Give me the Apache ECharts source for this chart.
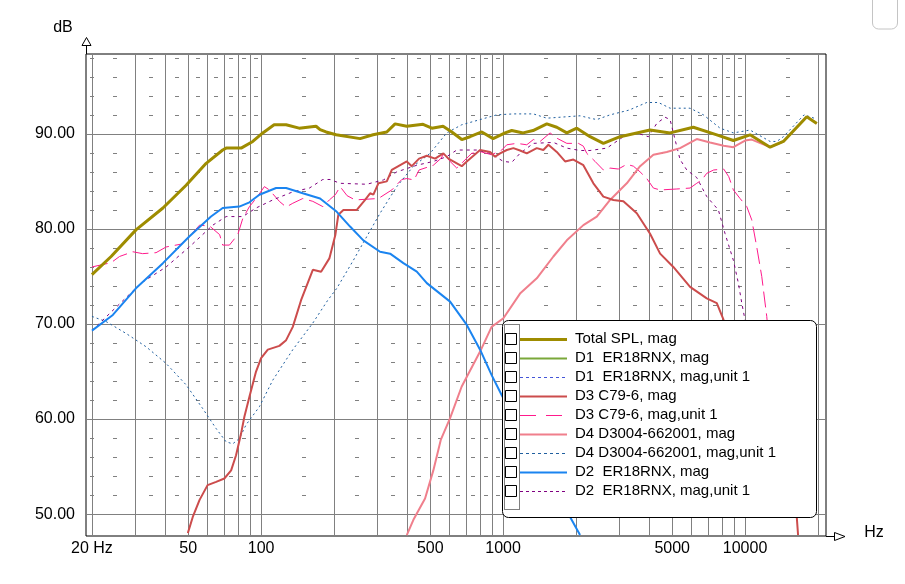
<!DOCTYPE html>
<html><head><meta charset="utf-8">
<script src="https://cdn.jsdelivr.net/npm/echarts@6/dist/echarts.min.js"></script>
<style>html,body{margin:0;padding:0;background:#fff}#c{width:905px;height:584px}</style>
</head><body><div id="c"></div>
<script>
// ---- axes ----
const freqMin = 18.9, freqMax = 21600;
const dbMin = 47.7, dbMax = 98.4;
const xTickFreqs = [20, 50, 100, 500, 1000, 5000, 10000];
const xTickLabels = ['20 Hz', '50', '100', '500', '1000', '5000', '10000'];
const yTickValues = [50, 60, 70, 80, 90];
const yTickLabels = ['50.00', '60.00', '70.00', '80.00', '90.00'];
const gridFreqs = [20,30,40,50,60,70,80,90,100,200,300,400,500,600,700,800,900,1000,2000,3000,4000,5000,6000,7000,8000,9000,10000,20000];
const minorFreqs = [20,25,35,45,55,65,75,85,95,150,250,350,450,550,650,750,850,950,1500,2500,3500,4500,5500,6500,7500,8500,9500,15000];
const minorLevels = [52,54,56,58,62,64,66,68,72,74,76,78,82,84,86,88,92,94,96,98];

// ---- series data ----
const totalFreq = [20,24,30.4,39.3,49,59.3,69.4,71.7,82.7,92.4,101.6,113.2,126.9,143.6,168.7,175.3,185.6,204.2,256.5,290.2,330.7,357.8,400,467,507.6,565,614,675,730,816.6,909.4,1019,1086,1210,1330,1516,1667,1834,2017,2288,2597,3044,4050,4899,6114,7642,8948,10488,12689,14400,17990,19786];
const totalDb = [75.2,77.1,79.9,82.2,84.6,86.9,88.3,88.5,88.5,89.2,90.1,90.95,90.95,90.6,90.8,90.45,90.2,89.9,89.5,89.9,90.2,91.05,90.8,91.0,90.6,90.8,90.2,89.4,89.7,90.2,89.5,90.1,90.35,90.1,90.35,91.05,90.7,90.1,90.6,89.7,89.0,89.7,90.4,90.1,90.7,89.9,89.3,89.9,88.6,89.2,91.8,91.1];

const d2Freq = [20,24.4,30.4,39.3,50.5,62.1,69.4,81.3,89.5,98.4,115.3,126.9,148.7,175.3,205.5,233.2,264.6,310.2,341.3,387.3,440,484,604,708,803.5,898,987.6,1293,1564,1892,2080];
const d2Db = [69.3,70.95,73.75,76.4,79.2,81.3,82.2,82.35,82.8,83.6,84.3,84.3,83.75,83.2,81.8,80.25,78.8,77.6,77.4,76.4,75.5,74.3,72.35,69.9,67.3,64.6,62.5,57,53.5,49.7,47.8];

const d2u1Freq = [20,31.9,40.5,50.5,63.2,71.7,84.0,95.3,111.8,135.2,158.4,179.9,192.8,212.1,273.4,320.2,363.7,440,515,585,643.7,778.6,883.7,1003,1086,1175,1334,1614,1834,2080,2288,2683,3141,3569,3985,4317,4672,4899,5136,5387,5743,6315,6945,7756,8268,8948,9382,9692,10000,10998];
const d2u1Db = [69.3,74.3,76.0,78.1,80.4,81.3,81.3,82.2,83.05,83.9,84.3,85.2,85.2,84.8,84.7,85.15,86.0,86.7,87.1,87.6,88.3,88.3,87.95,87.1,87.0,87.95,89.0,89.1,88.5,88.25,88.25,88.5,89.7,90.1,89.7,91.1,91.75,91.5,89.4,87.3,86.2,85.4,83.4,82.0,79.5,76.7,74.3,72.2,70.4,66];

const d3u1Freq = [20,24.0,26.0,29.5,32.4,36.8,40.5,46.7,50.5,55.7,61.3,67.4,69.4,74.0,80.1,84.0,89.5,95.3,103.2,108.2,119.0,126.9,135.2,148.7,163.6,179.9,191.5,202.8,212.1,226.6,244.6,305.3,346.8,381.5,400,428.7,449.7,515,552.7,570.4,604,643.7,673.9,741.1,815.1,896.5,987.6,1036,1139,1253,1334,1422,1564,1667,1834,2048,2147,2218,2400,2597,2768,2995,3245,3455,3683,3925,4180,4456,5223,5925,6315,6624,6945,7420,8160,8561,8948,9535,10163,10659,11176,11721,12290,12689];
const d3u1Db = [76.0,76.45,77.1,77.6,77.4,77.5,78.1,78.4,79.2,80.4,80.3,79.4,78.3,78.3,79.4,81.1,82.35,83.2,84.45,84.1,82.9,82.3,82.7,83.2,82.9,82.35,83.05,83.6,84.45,83.5,83.05,83.2,84.1,85.2,85.3,85.15,86.2,86.7,87.4,87.95,87.1,86.4,86.9,87.95,88.1,87.8,88.3,88.85,89.0,88.85,89.4,89.2,90.1,89.55,89.0,89.0,88.7,87.95,87.1,86.2,86.4,86.3,86.8,86.6,86.0,85.3,84.3,84.1,84.2,84.3,84.8,85.15,85.85,86.2,86.3,85.5,84.1,83.2,82.35,80.95,78.1,75.0,70.8,67];

const d3Freq = [49.8,52.2,55.7,60.1,65.2,70.5,75.2,78.8,82.7,85.3,89.5,95.3,100,106.6,119.0,126.9,135.2,146.3,163.6,177.0,191.5,202.8,208.6,218.8,248.6,269.0,282.1,291.1,305.3,330.7,346.8,369.4,400,419.5,449.7,484,523.6,566.7,594.3,675,708,803.5,883.7,926.6,971.9,1036,1103,1175,1253,1378,1467,1539,1667,1804,1952,2147,2361,2597,2856,3141,3569,4050,4456,5053,5925,6945,7642,8160,10488,13300,15350,16355,16560];
const d3Db = [48.0,49.7,51.5,53.05,53.4,53.75,54.6,56.2,58.5,60.25,62.35,65.0,66.4,67.3,67.7,68.3,69.7,72.5,75.7,75.5,76.9,79.4,81.5,82.0,82.0,83.05,83.75,83.6,84.8,85.0,86.2,86.6,87.1,86.6,87.4,87.7,87.4,87.95,87.4,86.6,87.1,88.3,88.1,87.6,87.95,88.3,88.5,88.25,87.95,88.5,88.3,88.85,88.1,87.1,87.3,86.7,84.8,83.4,83.05,82.9,81.65,79.5,77.4,76.0,73.9,72.7,72.2,70.4,65,58,53,49.7,47.8];

const d4Freq = [400,426,476,515,552.7,604,673.9,803.5,896.5,1003,1175,1378,1614,1834,2147,2439,2768,3245,3683,4180,4748,5387,6315,7168,8160,8948,10000,10659,12689,14400,17990,19786];
const d4Db = [47.8,49.4,51.65,54.6,57.8,60.1,63.4,67.1,69.7,70.6,73.2,74.8,77.1,78.8,80.4,81.3,83.05,84.8,86.6,87.8,88.1,88.5,89.45,89.1,88.75,88.6,89.3,89.4,88.6,89.2,91.8,91.1];

const d4u1Freq = [20,22.9,27.7,33.5,40.5,49.0,57.4,65.2,71.7,76.4,81.3,86.7,98.4,111.8,135.2,163.6,188.6,205.5,240.6,273.4,310.2,363.7,426,499.4,585,673.9,803.5,941.9,1103,1334,1516,1834,2080,2288,2439,2768,3316,3925,4383,4899,5925,6724,7882,8948,10488,12689,13520,14400,17530,19280];
const d4u1Db = [70.8,70.25,69.0,67.6,65.85,63.6,61.1,59.0,57.6,57.4,57.95,59.4,61.3,64.1,67.3,70.1,72.5,73.75,76.7,79.2,81.65,84.45,86.6,87.95,90.1,90.95,91.5,92.0,92.1,92.1,91.65,91.8,91.9,91.65,91.5,92.0,92.5,93.3,93.3,92.7,92.7,92.0,90.6,90.1,90.4,89.2,89.2,89.7,92.0,91.65];

// ---- legend ----
const legendNames = ['Total SPL, mag','D1  ER18RNX, mag','D1  ER18RNX, mag,unit 1','D3 C79-6, mag','D3 C79-6, mag,unit 1','D4 D3004-662001, mag','D4 D3004-662001, mag,unit 1','D2  ER18RNX, mag','D2  ER18RNX, mag,unit 1'];
const legendColors = ['#9e8c00','#7aa83a','#4455d8','#cc4c4c','#ff1a8c','#f07f8c','#1f5f9f','#1a84f0','#800080'];
const legendWidths = [3,2,1,2,1,2,1,2,1];
const legendDash = ['solid','solid',[3,3],'solid',[16,10],'solid',[3,3],'solid',[3,3]];

const lg = Math.log10;
const pts = (f, d) => f.map((v, i) => [lg(v), d[i]]);
const FONT = 'Liberation Sans, Arial, sans-serif';

function lineSeries(name, f, d, color, width, dash, z) {
  return {
    type: 'line', name, data: pts(f, d), showSymbol: false, symbol: 'none',
    lineStyle: { color, width, type: dash }, clip: true, z, animation: false, silent: true
  };
}

const series = [
  // vertical gridlines
  {
    type: 'custom', z: 1, silent: true, clip: true, animation: false,
    data: gridFreqs.map(f => [lg(f), dbMin]),
    renderItem: (params, api) => {
      const x = Math.round(api.coord([api.value(0), dbMin])[0]) + 0.5;
      const y1 = api.coord([api.value(0), dbMin])[1];
      const y2 = api.coord([api.value(0), dbMax])[1];
      return { type: 'line', shape: { x1: x, y1, x2: x, y2 }, style: { stroke: '#808080', lineWidth: 1 } };
    }
  },
  // horizontal gridlines
  {
    type: 'custom', z: 1, silent: true, clip: true, animation: false,
    data: yTickValues.map(v => [lg(freqMin), v]),
    renderItem: (params, api) => {
      const p1 = api.coord([lg(freqMin), api.value(1)]);
      const p2 = api.coord([lg(freqMax), api.value(1)]);
      const y = Math.round(p1[1]) + 0.5;
      return { type: 'line', shape: { x1: p1[0], y1: y, x2: p2[0], y2: y }, style: { stroke: '#808080', lineWidth: 1 } };
    }
  },
  // minor dashes
  {
    type: 'custom', z: 1, silent: true, clip: true, animation: false,
    data: minorLevels.flatMap(l => minorFreqs.map(f => [lg(f), l])),
    renderItem: (params, api) => {
      const p = api.coord([api.value(0), api.value(1)]);
      const y = Math.round(p[1]) + 0.5;
      const x = Math.round(p[0]);
      return { type: 'line', shape: { x1: x - 2, y1: y, x2: x + 2, y2: y }, style: { stroke: '#808080', lineWidth: 1 } };
    }
  },
  lineSeries(legendNames[4], d3u1Freq, d3u1Db, legendColors[4], 1, [16, 6], 2),
  lineSeries(legendNames[6], d4u1Freq, d4u1Db, legendColors[6], 1, [2, 3], 3),
  lineSeries(legendNames[8], d2u1Freq, d2u1Db, legendColors[8], 1, [3, 4], 4),
  lineSeries(legendNames[5], d4Freq, d4Db, legendColors[5], 2, 'solid', 5),
  lineSeries(legendNames[3], d3Freq, d3Db, legendColors[3], 2, 'solid', 6),
  lineSeries(legendNames[7], d2Freq, d2Db, legendColors[7], 2, 'solid', 7),
  lineSeries(legendNames[0], totalFreq, totalDb, legendColors[0], 3, 'solid', 8)
];

// legend graphics
const LX = 502, LY = 320, LW = 314, LH = 197, ROW0 = 338.5, ROWH = 19;
const graphics = [
  { type: 'rect', z: 100, shape: { x: LX + 0.5, y: LY + 0.5, width: LW, height: LH, r: 6 }, style: { fill: '#fff', stroke: '#000', lineWidth: 1 } },
  { type: 'rect', z: 101, shape: { x: LX + 2.5, y: LY + 4.5, width: 15, height: 185 }, style: { fill: 'none', stroke: '#000', lineWidth: 1, lineDash: [1, 1] } }
];
legendNames.forEach((n, i) => {
  const cy = ROW0 + i * ROWH;
  graphics.push({ type: 'rect', z: 102, shape: { x: LX + 3.5, y: Math.round(cy) - 5.5, width: 11, height: 11 }, style: { fill: '#fff', stroke: '#000', lineWidth: 1 } });
  graphics.push({ type: 'line', z: 102, shape: { x1: LX + 18, y1: Math.round(cy) + 0.5, x2: LX + 65, y2: Math.round(cy) + 0.5 },
    style: { stroke: legendColors[i], lineWidth: legendWidths[i], lineDash: legendDash[i] === 'solid' ? null : legendDash[i] } });
  graphics.push({ type: 'text', z: 102, style: { x: LX + 73, y: cy, text: n, fill: '#000', font: '15px ' + FONT, verticalAlign: 'middle', align: 'left' } });
});
// axis arrows and titles
graphics.push(
  { type: 'line', z: 50, shape: { x1: 86.5, y1: 54, x2: 86.5, y2: 45 }, style: { stroke: '#000', lineWidth: 1 } },
  { type: 'polygon', z: 50, shape: { points: [[82, 45.5], [91, 45.5], [86.5, 37.5]] }, style: { fill: '#fff', stroke: '#000', lineWidth: 1 } },
  { type: 'line', z: 50, shape: { x1: 826, y1: 536.5, x2: 834, y2: 536.5 }, style: { stroke: '#000', lineWidth: 1 } },
  { type: 'polygon', z: 50, shape: { points: [[834.5, 532.5], [834.5, 540.5], [845, 536.5]] }, style: { fill: '#fff', stroke: '#000', lineWidth: 1 } },
  { type: 'text', z: 50, style: { x: 63, y: 28, text: 'dB', fill: '#000', font: '16px ' + FONT, align: 'center', verticalAlign: 'middle' } },
  { type: 'text', z: 50, style: { x: 874, y: 533, text: 'Hz', fill: '#000', font: '16px ' + FONT, align: 'center', verticalAlign: 'middle' } },
  { type: 'rect', z: 50, shape: { x: 872.5, y: -8, width: 25, height: 37, r: 6 }, style: { fill: 'none', stroke: '#c4c4c4', lineWidth: 1 } }
);

const chart = echarts.init(document.getElementById('c'), null, { renderer: 'canvas' });
chart.setOption({
  animation: false,
  backgroundColor: '#fff',
  grid: { left: 86, top: 54, right: 79, bottom: 48, show: true, borderColor: '#000', borderWidth: 1, backgroundColor: '#fff' },
  xAxis: {
    type: 'value', min: lg(freqMin), max: lg(freqMax),
    axisLine: { show: false }, axisTick: { show: false }, splitLine: { show: false },
    axisLabel: {
      customValues: xTickFreqs.map(lg),
      formatter: v => { const i = xTickFreqs.findIndex(f => Math.abs(lg(f) - v) < 1e-6); return i >= 0 ? xTickLabels[i] : ''; },
      color: '#000', fontSize: 16, fontFamily: FONT, margin: 5
    }
  },
  yAxis: {
    type: 'value', min: dbMin, max: dbMax,
    axisLine: { show: false }, axisTick: { show: false }, splitLine: { show: false },
    axisLabel: {
      customValues: yTickValues,
      formatter: v => { const i = yTickValues.findIndex(t => Math.abs(t - v) < 1e-6); return i >= 0 ? yTickLabels[i] : ''; },
      color: '#000', fontSize: 16, fontFamily: FONT, margin: 11
    }
  },
  series,
  graphic: { elements: graphics }
});
</script></body></html>
